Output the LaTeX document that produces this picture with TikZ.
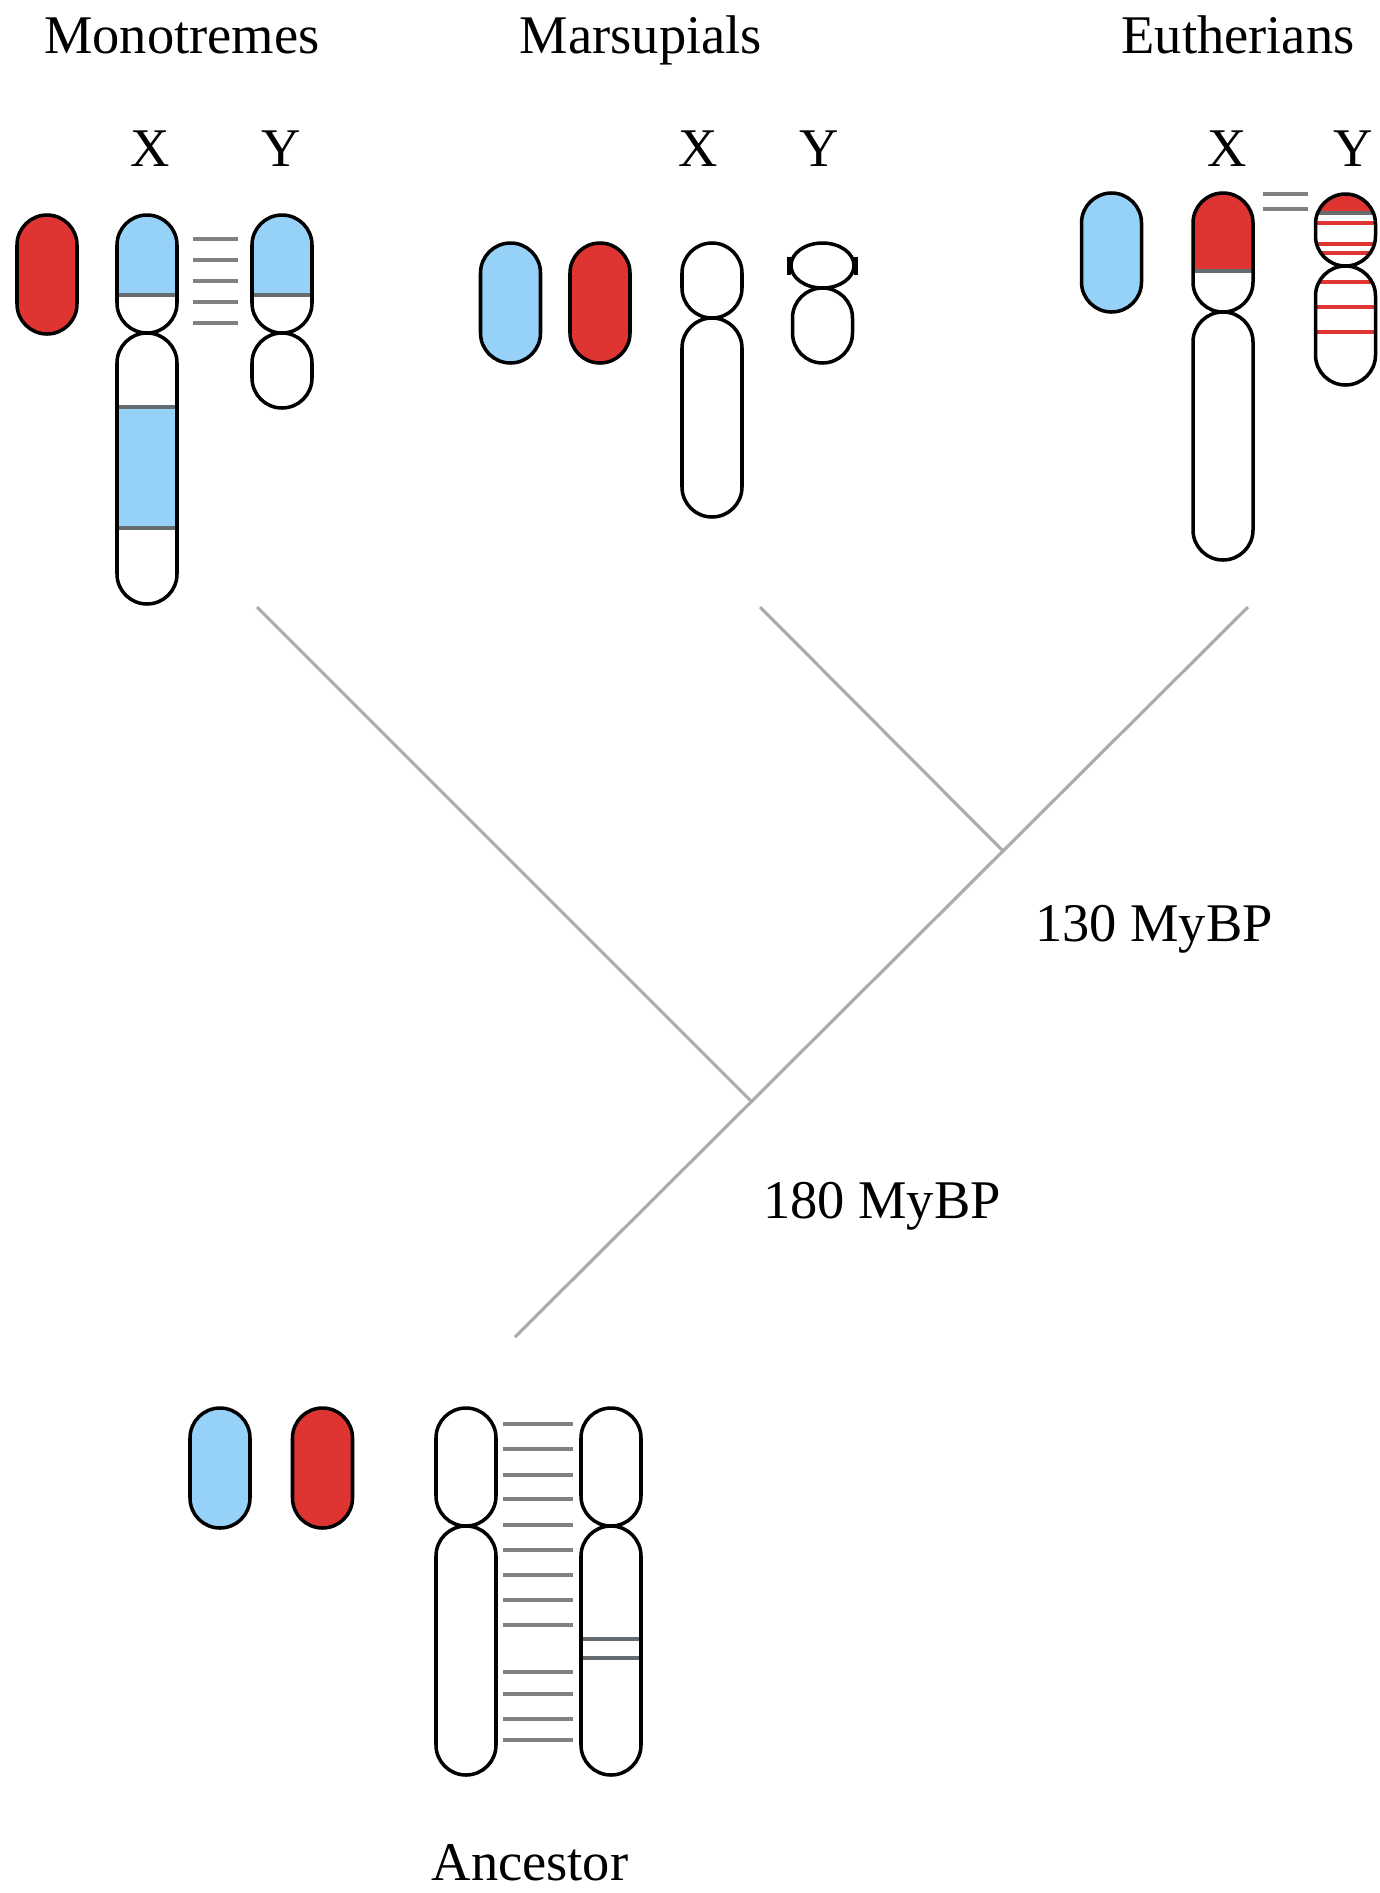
\documentclass[tikz,border=0pt]{standalone}
\usepackage{fontspec}
\setmainfont{Liberation Serif}
\usepackage{tikz}
\usetikzlibrary{shapes.geometric}

\definecolor{xblue}{RGB}{150,210,248}
\definecolor{xred}{RGB}{222,52,50}
\definecolor{bandgray}{RGB}{100,108,112}

% fills and bands inside a chromosome arm (used in path picture)
\newcommand{\armtop}[2]{\fill[#1, sharp corners] (path picture bounding box.north west) rectangle ([yshift=-#2cm]path picture bounding box.north east);}
\newcommand{\armband}[3]{\fill[#1, sharp corners] ([yshift=-#2cm]path picture bounding box.north west) rectangle ([yshift=-#3cm]path picture bounding box.north east);}
\newcommand{\armline}[2]{\draw[#1, sharp corners] ([yshift=-#2cm]path picture bounding box.north west) -- ([yshift=-#2cm]path picture bounding box.north east);}

\begin{document}
\begin{tikzpicture}[y=-1cm, font=\fontsize{15.5}{18}\selectfont]
  \tikzset{chrom/.style={draw, line width=1pt, rounded corners=0.3cm, minimum width=0.6cm, inner sep=0pt, outer sep=0pt}}
  \tikzset{arm/.style={chrom, minimum height=#1cm}}
  \tikzset{link/.style={draw=gray, line width=1.3pt}}
  \tikzset{branch/.style={draw=gray!65, line width=0.9pt}}
  \tikzset{title/.style={anchor=base, inner sep=0pt}}
  \tikzset{grayline/.style={bandgray, line width=1.2pt}}
  \tikzset{redline/.style={xred, line width=1pt}}
  \useasboundingbox (0,0) rectangle (13.79,18.93);

  % monotremes
  \node[title] (monoName) at (1.82,0.53) {Monotremes};
  \node[title] (monoX) at (1.50,1.66) {X};
  \node[title] (monoY) at (2.81,1.66) {Y};
  \node[arm=1.19, fill=xred] (monoRed) at (0.47,2.745) {};
  \node[arm=1.18, path picture={\armtop{xblue}{0.80}\armline{grayline}{0.80}}] (monoXp) at (1.47,2.74) {};
  \node[arm=2.71, path picture={\armband{xblue}{0.74}{1.95}\armline{grayline}{0.74}\armline{grayline}{1.95}}] (monoXq) at (1.47,4.685) {};
  \node[arm=1.18, path picture={\armtop{xblue}{0.80}\armline{grayline}{0.80}}] (monoYp) at (2.82,2.74) {};
  \node[arm=0.75] (monoYq) at (2.82,3.705) {};
  \foreach \y in {2.39,2.60,2.81,3.02,3.23}
    \draw[link, shorten <=0.155cm, shorten >=0.145cm] (monoXp.east |- 0,\y) -- (monoYp.west |- 0,\y);

  % marsupials
  \node[title] (marsName) at (6.41,0.53) {Marsupials};
  \node[title] (marsX) at (6.98,1.66) {X};
  \node[title] (marsY) at (8.19,1.66) {Y};
  \node[arm=1.20, fill=xblue] (marsBlue) at (5.105,3.03) {};
  \node[arm=1.20, fill=xred] (marsRed) at (6.00,3.03) {};
  \node[arm=0.75] (marsXp) at (7.12,2.805) {};
  \node[arm=1.99] (marsXq) at (7.12,4.175) {};
  \node[draw, ellipse, line width=1pt, minimum width=0.63cm, minimum height=0.45cm, inner sep=0pt] (marsYp) at (8.225,2.655) {};
  \node[arm=0.75] (marsYq) at (8.225,3.255) {};
  \draw[line width=1pt] ([yshift=0.09cm]marsYp.west) -- ([yshift=-0.09cm]marsYp.west);
  \draw[line width=1pt] ([yshift=0.09cm]marsYp.east) -- ([yshift=-0.09cm]marsYp.east);

  % eutherians
  \node[title] (euthName) at (12.38,0.53) {Eutherians};
  \node[title] (euthX) at (12.27,1.66) {X};
  \node[title] (euthY) at (13.53,1.66) {Y};
  \node[arm=1.19, fill=xblue] (euthBlue) at (11.115,2.525) {};
  \node[arm=1.19, path picture={\armtop{xred}{0.78}\armline{grayline}{0.78}}] (euthXp) at (12.23,2.525) {};
  \node[arm=2.48] (euthXq) at (12.23,4.36) {};
  \node[arm=0.72, path picture={\armtop{xred}{0.18}\armline{grayline}{0.19}\foreach \d in {0.29,0.50,0.59}{\armline{redline}{\d}}}] (euthYp) at (13.455,2.30) {};
  \node[arm=1.19, path picture={\foreach \d in {0.16,0.41,0.66}{\armline{redline}{\d}}}] (euthYq) at (13.455,3.255) {};
  \foreach \y in {1.94,2.09}
    \draw[link, shorten <=0.095cm, shorten >=0.08cm] (euthXp.east |- 0,\y) -- (euthYp.west |- 0,\y);

  % tree
  \coordinate (monoTip) at (2.57,6.07);
  \coordinate (marsTip) at (7.60,6.07);
  \coordinate (euthTip) at (12.48,6.07);
  \coordinate (split130) at (10.03,8.51);
  \coordinate (split180) at (7.515,11.015);
  \coordinate (root) at (5.15,13.37);
  \draw[branch] (euthTip) -- (split130) -- (split180) -- (root);
  \draw[branch] (marsTip) -- (split130);
  \draw[branch] (monoTip) -- (split180);
  \node[title] (age130) at (11.54,9.41) {130 MyBP};
  \node[title] (age180) at (8.82,12.18) {180 MyBP};

  % ancestor
  \node[arm=1.20, fill=xblue] (ancBlue) at (2.20,14.68) {};
  \node[arm=1.20, fill=xred] (ancRed) at (3.225,14.68) {};
  \node[arm=1.18] (ancLp) at (4.66,14.67) {};
  \node[arm=2.49] (ancLq) at (4.66,16.505) {};
  \node[arm=1.18] (ancRp) at (6.11,14.67) {};
  \node[arm=2.49, path picture={\armline{grayline}{1.13}\armline{grayline}{1.32}}] (ancRq) at (6.11,16.505) {};
  \foreach \y in {14.24,14.49,14.75,14.99,15.25,15.50,15.75,16.00,16.25,16.72,16.94,17.19,17.40}
    \draw[link, shorten <=0.065cm, shorten >=0.085cm] (ancLp.east |- 0,\y) -- (ancRp.west |- 0,\y);
  \node[title] (ancName) at (5.30,18.80) {Ancestor};
\end{tikzpicture}
\end{document}
